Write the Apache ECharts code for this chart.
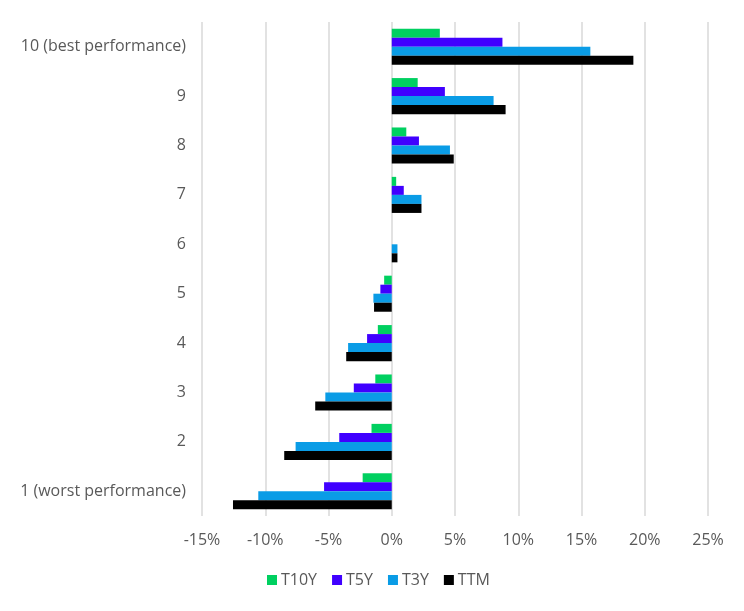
<!DOCTYPE html>
<html>
<head>
<meta charset="utf-8">
<script src="https://cdn.jsdelivr.net/npm/echarts@6/dist/echarts.min.js"></script>
<style>html,body{margin:0;padding:0;background:#fff}#c{width:744px;height:611px}</style>
</head>
<body>
<div id="c"></div>
<script>
const categories = ['1 (worst performance)','2','3','4','5','6','7','8','9','10 (best performance)'];
const seriesNames = ['T10Y','T5Y','T3Y','TTM'];
const t10y = [-2.3, -1.6, -1.3, -1.1, -0.6, 0.0, 0.35, 1.15, 2.05, 3.8];
const t5y  = [-5.35, -4.15, -3.0, -1.95, -0.9, 0.0, 0.95, 2.15, 4.2, 8.75];
const t3y  = [-10.55, -7.6, -5.25, -3.45, -1.45, 0.45, 2.35, 4.6, 8.05, 15.7];
const ttm  = [-12.55, -8.5, -6.05, -3.6, -1.4, 0.45, 2.35, 4.9, 9.0, 19.1];
const xTicks = {min: -15, max: 25, interval: 5};
const colors = ['#00D060','#4000FF','#0A9CE6','#000000'];

const font = 'Open Sans, Noto Sans, sans-serif';
const chart = echarts.init(document.getElementById('c'), null, {renderer:'canvas'});
const dataSets = [t10y, t5y, t3y, ttm];
chart.setOption({
  animation: false,
  color: colors,
  grid: {left: 202, right: 36, top: 22, bottom: 95, containLabel: false},
  legend: {
    bottom: 18, left: 262, itemWidth: 10, itemHeight: 10, itemGap: 15,
    icon: 'rect',
    textStyle: {color: '#595959', fontSize: 16, fontFamily: font, padding: [0, 0, 0, -1]},
    data: seriesNames
  },
  xAxis: {
    type: 'value', min: xTicks.min, max: xTicks.max, interval: xTicks.interval,
    axisLine: {show: false}, axisTick: {show: false},
    splitLine: {show: true, lineStyle: {color: '#D9D9D9', width: 1.5}},
    axisLabel: {formatter: '{value}%', color: '#595959', fontSize: 16, fontFamily: font, margin: 16}
  },
  yAxis: {
    type: 'category', data: categories,
    axisLine: {show: false}, axisTick: {show: false},
    axisLabel: {color: '#595959', fontSize: 16, fontFamily: font, margin: 16}
  },
  series: seriesNames.map((n, i) => ({
    name: n, type: 'bar', data: dataSets[i],
    barGap: '0%', barCategoryGap: '27%'
  }))
});
</script>
</body>
</html>
